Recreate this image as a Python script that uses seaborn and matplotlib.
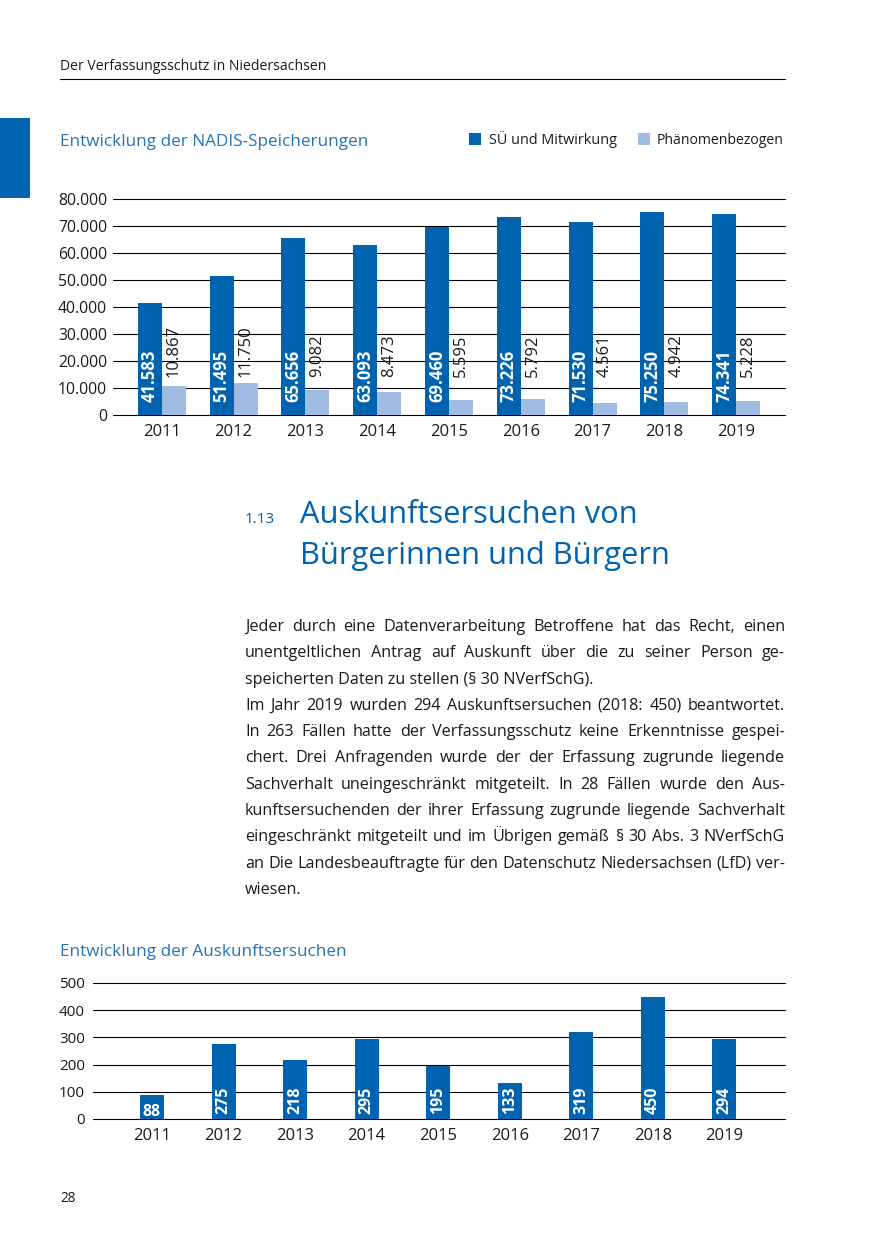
import numpy as np
import pandas as pd
import matplotlib.pyplot as plt
import seaborn as sns
from matplotlib.patches import Rectangle
from matplotlib.lines import Line2D
from matplotlib.ticker import FuncFormatter, MultipleLocator

# data
years = ['2011', '2012', '2013', '2014', '2015', '2016', '2017', '2018', '2019']
su_mitwirkung = [41583, 51495, 65656, 63093, 69460, 73226, 71530, 75250, 74341]
phaenomen = [10867, 11750, 9082, 8473, 5595, 5792, 4561, 4942, 5228]
auskunft = [88, 275, 218, 295, 195, 133, 319, 450, 294]
series_names = ['SÜ und Mitwirkung', 'Phänomenbezogen']

header = 'Der Verfassungsschutz in Niedersachsen'
title1 = 'Entwicklung der NADIS-Speicherungen'
title2 = 'Entwicklung der Auskunftsersuchen'
section_no = '1.13'
section_title = ['Auskunftsersuchen von', 'Bürgerinnen und Bürgern']
body_lines = [
    'Jeder durch eine Datenverarbeitung Betroffene hat das Recht, einen',
    'unentgeltlichen Antrag auf Auskunft über die zu seiner Person ge-',
    'speicherten Daten zu stellen (§ 30 NVerfSchG).',
    'Im Jahr 2019 wurden 294 Auskunftsersuchen (2018: 450) beantwortet.',
    'In 263 Fällen hatte der Verfassungsschutz keine Erkenntnisse gespei-',
    'chert. Drei Anfragenden wurde der der Erfassung zugrunde liegende',
    'Sachverhalt uneingeschränkt mitgeteilt. In 28 Fällen wurde den Aus-',
    'kunftsersuchenden der ihrer Erfassung zugrunde liegende Sachverhalt',
    'eingeschränkt mitgeteilt und im Übrigen gemäß § 30 Abs. 3 NVerfSchG',
    'an Die Landesbeauftragte für den Datenschutz Niedersachsen (LfD) ver-',
    'wiesen.',
]
para_ends = [2, 10]
page_no = '28'

DARK = '#0063AF'
LIGHT = '#A0BCE3'
TITLE = '#2474b8'
TEXT = '#1a1a1a'

W, H = 875, 1241


def fx(x):
    return x / W


def fy(y):
    return 1 - y / H


def de(v, pos=None):
    return f'{int(round(v)):,}'.replace(',', '.')


sns.set_theme(style='white')
plt.rcParams['font.family'] = ['Open Sans', 'DejaVu Sans']

fig = plt.figure(figsize=(W / 100, H / 100), dpi=100)

# page head
fig.text(fx(60), fy(70), header, fontsize=10.1, color=TEXT, va='baseline')
fig.add_artist(Line2D([fx(60), fx(785)], [fy(79), fy(79)], color='black', lw=0.8))
fig.add_artist(Rectangle((0, fy(198)), fx(30), 80 / H, color=DARK, lw=0))

############################################################################################
# chart 1
fig.text(fx(60), fy(146), title1, fontsize=12.3, color=TITLE, va='baseline')
fig.add_artist(Rectangle((fx(469), fy(145)), 12 / W, 12 / H, color=DARK, lw=0))
fig.text(fx(489), fy(144), series_names[0], fontsize=10.4, color=TEXT, va='baseline')
fig.add_artist(Rectangle((fx(638), fy(145)), 12 / W, 12 / H, color=LIGHT, lw=0))
fig.text(fx(657), fy(144), series_names[1], fontsize=10.1, color=TEXT, va='baseline')

df1 = pd.DataFrame({'Jahr': years * 2,
                    'Wert': su_mitwirkung + phaenomen,
                    'Reihe': [series_names[0]] * len(years) + [series_names[1]] * len(years)})

ax1 = fig.add_axes([fx(113), fy(415), 672 / W, 216 / H])
sns.barplot(data=df1, x='Jahr', y='Wert', hue='Reihe', hue_order=series_names,
            palette=[DARK, LIGHT], saturation=1, width=0.67, errorbar=None,
            legend=False, linewidth=0, ax=ax1)
ax1.set_xlim(-0.68, 8.68)
ax1.set_ylim(0, 80000)
ax1.yaxis.set_major_locator(MultipleLocator(10000))
ax1.yaxis.set_major_formatter(FuncFormatter(de))

for bar in ax1.containers[0]:
    cx = bar.get_x() + bar.get_width() / 2
    ax1.annotate(de(bar.get_height()), xy=(cx, 0), xytext=(0, 9.4), textcoords='offset points',
                 rotation=90, ha='center', va='bottom', color='white',
                 fontweight='bold', fontsize=12)
for bar in ax1.containers[1]:
    cx = bar.get_x() + bar.get_width() / 2
    ax1.annotate(de(bar.get_height()), xy=(cx, 0), xytext=(0, 27.4), textcoords='offset points',
                 rotation=90, ha='center', va='bottom', color=TEXT, fontsize=12)

############################################################################################
# section heading + text
fig.text(fx(245), fy(523), section_no, fontsize=11, color=DARK, va='baseline')
fig.text(fx(300), fy(523), section_title[0], fontsize=22.2, color=DARK, va='baseline')
fig.text(fx(300), fy(564), section_title[1], fontsize=22.2, color=DARK, va='baseline')

renderer = fig.canvas.get_renderer()
left, right = 245, 785
body_size = 11.6
for i, line in enumerate(body_lines):
    yb = fy(631 + i * 26.3)
    if i in para_ends:
        fig.text(fx(left), yb, line, fontsize=body_size, color=TEXT, va='baseline')
        continue
    words = line.split(' ')
    texts = [fig.text(0, yb, w, fontsize=body_size, color=TEXT, va='baseline') for w in words]
    fs = body_size
    while True:
        widths = [t.get_window_extent(renderer).width for t in texts]
        gap = (right - left - sum(widths)) / (len(words) - 1)
        if gap >= 3.0 or fs < 9:
            break
        fs -= 0.1
        for t in texts:
            t.set_fontsize(fs)
    x = left
    for t, w in zip(texts, widths):
        t.set_x(fx(x))
        x += w + gap

############################################################################################
# chart 2
fig.text(fx(60), fy(956), title2, fontsize=12.3, color=TITLE, va='baseline')

ax2 = fig.add_axes([fx(93), fy(1119), 692 / W, 136 / H])
sns.barplot(x=years, y=auskunft, color=DARK, saturation=1, width=0.335,
            errorbar=None, linewidth=0, ax=ax2)
ax2.set_xlim(-0.824, 8.846)
ax2.set_ylim(0, 500)
ax2.yaxis.set_major_locator(MultipleLocator(100))

for bar in ax2.containers[0]:
    cx = bar.get_x() + bar.get_width() / 2
    h = bar.get_height()
    if h < 120:
        ax2.annotate(de(h), xy=(cx, 0), xytext=(0, 2.2), textcoords='offset points',
                     ha='center', va='baseline', color='white', fontweight='bold', fontsize=11.5)
    else:
        ax2.annotate(de(h), xy=(cx, 0), xytext=(0, 3.6), textcoords='offset points',
                     rotation=90, ha='center', va='bottom', color='white',
                     fontweight='bold', fontsize=11.5)

for ax, ysize, xsize, ypad in [(ax1, 11.3, 12, 4.3), (ax2, 11, 12, 5.8)]:
    ax.set(xlabel='', ylabel='')
    ax.grid(axis='y', color='black', lw=0.8)
    ax.set_axisbelow(True)
    for gl in ax.get_ygridlines():
        gl.set_clip_on(False)
    sns.despine(ax=ax, left=True, bottom=True)
    ax.tick_params(axis='both', length=0, colors=TEXT)
    ax.tick_params(axis='y', labelsize=ysize, pad=ypad)
    ax.tick_params(axis='x', labelsize=xsize, pad=6.3)

fig.text(fx(60), fy(1202), page_no, fontsize=9.8, color=TEXT, va='baseline')

fig.savefig('out.png', dpi=100)
